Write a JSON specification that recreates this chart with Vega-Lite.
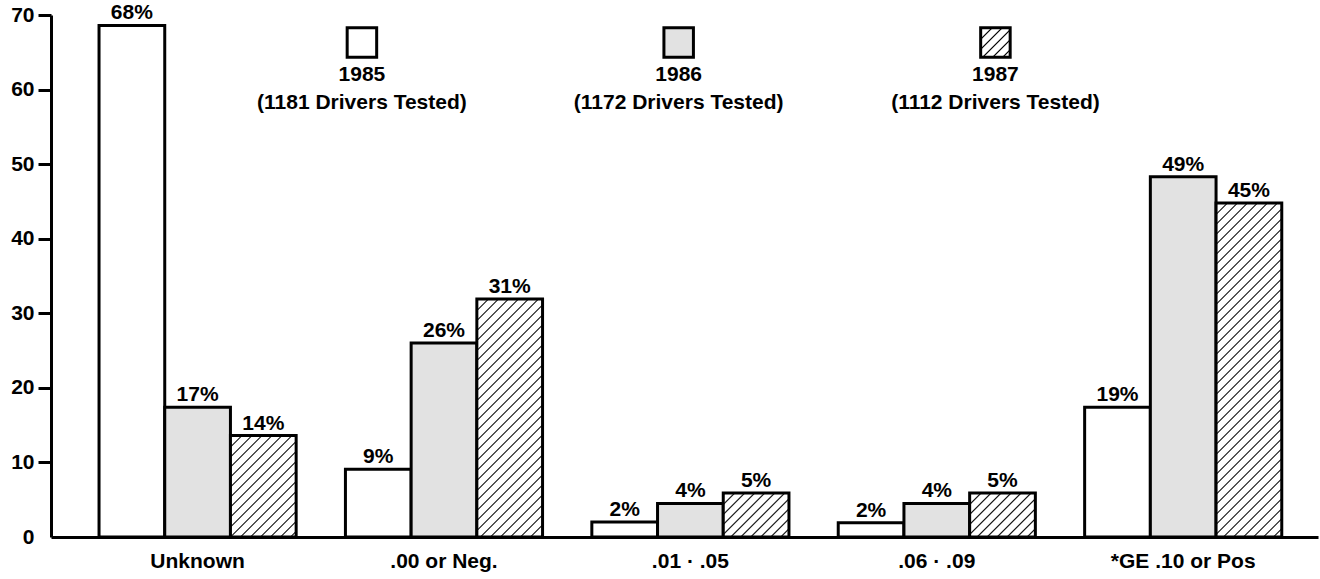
{
  "$schema": "https://vega.github.io/schema/vega-lite/v6.json",
  "width": 1267,
  "height": 522,
  "autosize": {"type": "none"},
  "padding": {"left": 51, "top": 15, "right": 2, "bottom": 42},
  "background": "white",
  "config": {"view": {"stroke": null}, "font": "Liberation Sans"},
  "datasets": {
    "bars": [
      {"cat": "Unknown", "year": "1985", "value": 68.6, "label": "68%"},
      {"cat": "Unknown", "year": "1986", "value": 17.4, "label": "17%"},
      {"cat": "Unknown", "year": "1987", "value": 13.6, "label": "14%"},
      {"cat": ".00 or Neg.", "year": "1985", "value": 9.1, "label": "9%"},
      {"cat": ".00 or Neg.", "year": "1986", "value": 26.0, "label": "26%"},
      {"cat": ".00 or Neg.", "year": "1987", "value": 31.9, "label": "31%"},
      {"cat": ".01 · .05", "year": "1985", "value": 2.0, "label": "2%"},
      {"cat": ".01 · .05", "year": "1986", "value": 4.5, "label": "4%"},
      {"cat": ".01 · .05", "year": "1987", "value": 5.9, "label": "5%"},
      {"cat": ".06 · .09", "year": "1985", "value": 1.9, "label": "2%"},
      {"cat": ".06 · .09", "year": "1986", "value": 4.5, "label": "4%"},
      {"cat": ".06 · .09", "year": "1987", "value": 5.9, "label": "5%"},
      {"cat": "*GE .10 or Pos", "year": "1985", "value": 17.4, "label": "19%"},
      {"cat": "*GE .10 or Pos", "year": "1986", "value": 48.3, "label": "49%"},
      {"cat": "*GE .10 or Pos", "year": "1987", "value": 44.8, "label": "45%"}
    ],
    "legend": [
      {"year": "1985", "tested": "(1181 Drivers Tested)"},
      {"year": "1986", "tested": "(1172 Drivers Tested)"},
      {"year": "1987", "tested": "(1112 Drivers Tested)"}
    ]
  },
  "resolve": {"scale": {"x": "independent"}},
  "layer": [
    {
      "data": {"name": "bars"},
      "encoding": {
        "x": {
          "field": "cat", "type": "nominal",
          "scale": {"domain": ["Unknown", ".00 or Neg.", ".01 · .05", ".06 · .09", "*GE .10 or Pos"], "paddingInner": 0.2, "paddingOuter": 0.171, "align": 0.57},
          "axis": {"title": null, "labelAngle": 0, "ticks": false, "labelFont": "Liberation Sans", "labelFontSize": 21, "labelFontWeight": "bold", "labelColor": "black", "labelPadding": 13, "domainWidth": 3, "domainColor": "black", "grid": false}
        },
        "xOffset": {"field": "year", "type": "nominal", "scale": {"domain": ["1985", "1986", "1987"], "paddingInner": 0, "paddingOuter": 0}},
        "y": {
          "field": "value", "type": "quantitative",
          "scale": {"domain": [0, 70], "nice": false},
          "axis": {"title": null, "values": [0, 10, 20, 30, 40, 50, 60, 70], "grid": false, "tickSize": 13, "tickWidth": 3, "tickColor": {"condition": {"test": "datum.value === 0", "value": "transparent"}, "value": "black"}, "domainWidth": 3, "domainColor": "black", "labelFont": "Liberation Sans", "labelFontSize": 21, "labelFontWeight": "bold", "labelColor": "black", "labelPadding": 4}
        }
      },
      "layer": [
        {
          "transform": [{"filter": "datum.year == '1985'"}],
          "mark": {"type": "bar", "fill": "white", "stroke": "black", "strokeWidth": 3}
        },
        {
          "transform": [{"filter": "datum.year == '1986'"}],
          "mark": {"type": "bar", "fill": "#e2e2e2", "stroke": "black", "strokeWidth": 3}
        },
        {
          "transform": [{"filter": "datum.year == '1987' && datum.cat == 'Unknown'"}],
          "mark": {"type": "bar", "stroke": "black", "strokeWidth": 3, "fill": {"gradient": "linear", "x1": 0, "y1": 0, "x2": 0.8999, "y2": 1.3889, "stops": [
            {"offset": 0, "color": "white"}, {"offset": 0.0075, "color": "black"}, {"offset": 0.015, "color": "white"},
            {"offset": 0.05, "color": "white"}, {"offset": 0.0575, "color": "black"}, {"offset": 0.065, "color": "white"},
            {"offset": 0.1, "color": "white"}, {"offset": 0.1075, "color": "black"}, {"offset": 0.115, "color": "white"},
            {"offset": 0.15, "color": "white"}, {"offset": 0.1575, "color": "black"}, {"offset": 0.165, "color": "white"},
            {"offset": 0.2, "color": "white"}, {"offset": 0.2075, "color": "black"}, {"offset": 0.215, "color": "white"},
            {"offset": 0.25, "color": "white"}, {"offset": 0.2575, "color": "black"}, {"offset": 0.265, "color": "white"},
            {"offset": 0.3, "color": "white"}, {"offset": 0.3075, "color": "black"}, {"offset": 0.315, "color": "white"},
            {"offset": 0.35, "color": "white"}, {"offset": 0.3575, "color": "black"}, {"offset": 0.365, "color": "white"},
            {"offset": 0.4, "color": "white"}, {"offset": 0.4075, "color": "black"}, {"offset": 0.415, "color": "white"},
            {"offset": 0.45, "color": "white"}, {"offset": 0.4575, "color": "black"}, {"offset": 0.465, "color": "white"},
            {"offset": 0.5, "color": "white"}, {"offset": 0.5075, "color": "black"}, {"offset": 0.515, "color": "white"},
            {"offset": 0.55, "color": "white"}, {"offset": 0.5575, "color": "black"}, {"offset": 0.565, "color": "white"},
            {"offset": 0.6, "color": "white"}, {"offset": 0.6075, "color": "black"}, {"offset": 0.615, "color": "white"},
            {"offset": 0.65, "color": "white"}, {"offset": 0.6575, "color": "black"}, {"offset": 0.665, "color": "white"},
            {"offset": 0.7, "color": "white"}, {"offset": 0.7075, "color": "black"}, {"offset": 0.715, "color": "white"},
            {"offset": 0.75, "color": "white"}, {"offset": 0.7575, "color": "black"}, {"offset": 0.765, "color": "white"},
            {"offset": 0.8, "color": "white"}, {"offset": 0.8075, "color": "black"}, {"offset": 0.815, "color": "white"}
          ]}}
        },
        {
          "transform": [{"filter": "datum.year == '1987' && datum.cat == '.00 or Neg.'"}],
          "mark": {"type": "bar", "stroke": "black", "strokeWidth": 3, "fill": {"gradient": "linear", "x1": 0, "y1": 0, "x2": 0.4316, "y2": 1.5623, "stops": [
            {"offset": 0, "color": "white"}, {"offset": 0.00375, "color": "black"}, {"offset": 0.0075, "color": "white"},
            {"offset": 0.025, "color": "white"}, {"offset": 0.02875, "color": "black"}, {"offset": 0.0325, "color": "white"},
            {"offset": 0.05, "color": "white"}, {"offset": 0.05375, "color": "black"}, {"offset": 0.0575, "color": "white"},
            {"offset": 0.075, "color": "white"}, {"offset": 0.07875, "color": "black"}, {"offset": 0.0825, "color": "white"},
            {"offset": 0.1, "color": "white"}, {"offset": 0.10375, "color": "black"}, {"offset": 0.1075, "color": "white"},
            {"offset": 0.125, "color": "white"}, {"offset": 0.12875, "color": "black"}, {"offset": 0.1325, "color": "white"},
            {"offset": 0.15, "color": "white"}, {"offset": 0.15375, "color": "black"}, {"offset": 0.1575, "color": "white"},
            {"offset": 0.175, "color": "white"}, {"offset": 0.17875, "color": "black"}, {"offset": 0.1825, "color": "white"},
            {"offset": 0.2, "color": "white"}, {"offset": 0.20375, "color": "black"}, {"offset": 0.2075, "color": "white"},
            {"offset": 0.225, "color": "white"}, {"offset": 0.22875, "color": "black"}, {"offset": 0.2325, "color": "white"},
            {"offset": 0.25, "color": "white"}, {"offset": 0.25375, "color": "black"}, {"offset": 0.2575, "color": "white"},
            {"offset": 0.275, "color": "white"}, {"offset": 0.27875, "color": "black"}, {"offset": 0.2825, "color": "white"},
            {"offset": 0.3, "color": "white"}, {"offset": 0.30375, "color": "black"}, {"offset": 0.3075, "color": "white"},
            {"offset": 0.325, "color": "white"}, {"offset": 0.32875, "color": "black"}, {"offset": 0.3325, "color": "white"},
            {"offset": 0.35, "color": "white"}, {"offset": 0.35375, "color": "black"}, {"offset": 0.3575, "color": "white"},
            {"offset": 0.375, "color": "white"}, {"offset": 0.37875, "color": "black"}, {"offset": 0.3825, "color": "white"},
            {"offset": 0.4, "color": "white"}, {"offset": 0.40375, "color": "black"}, {"offset": 0.4075, "color": "white"},
            {"offset": 0.425, "color": "white"}, {"offset": 0.42875, "color": "black"}, {"offset": 0.4325, "color": "white"},
            {"offset": 0.45, "color": "white"}, {"offset": 0.45375, "color": "black"}, {"offset": 0.4575, "color": "white"},
            {"offset": 0.475, "color": "white"}, {"offset": 0.47875, "color": "black"}, {"offset": 0.4825, "color": "white"},
            {"offset": 0.5, "color": "white"}, {"offset": 0.50375, "color": "black"}, {"offset": 0.5075, "color": "white"},
            {"offset": 0.525, "color": "white"}, {"offset": 0.52875, "color": "black"}, {"offset": 0.5325, "color": "white"},
            {"offset": 0.55, "color": "white"}, {"offset": 0.55375, "color": "black"}, {"offset": 0.5575, "color": "white"},
            {"offset": 0.575, "color": "white"}, {"offset": 0.57875, "color": "black"}, {"offset": 0.5825, "color": "white"},
            {"offset": 0.6, "color": "white"}, {"offset": 0.60375, "color": "black"}, {"offset": 0.6075, "color": "white"},
            {"offset": 0.625, "color": "white"}, {"offset": 0.62875, "color": "black"}, {"offset": 0.6325, "color": "white"},
            {"offset": 0.65, "color": "white"}, {"offset": 0.65375, "color": "black"}, {"offset": 0.6575, "color": "white"},
            {"offset": 0.675, "color": "white"}, {"offset": 0.67875, "color": "black"}, {"offset": 0.6825, "color": "white"},
            {"offset": 0.7, "color": "white"}, {"offset": 0.70375, "color": "black"}, {"offset": 0.7075, "color": "white"},
            {"offset": 0.725, "color": "white"}, {"offset": 0.72875, "color": "black"}, {"offset": 0.7325, "color": "white"},
            {"offset": 0.75, "color": "white"}, {"offset": 0.75375, "color": "black"}, {"offset": 0.7575, "color": "white"}
          ]}}
        },
        {
          "transform": [{"filter": "datum.year == '1987' && (datum.cat == '.01 · .05' || datum.cat == '.06 · .09')"}],
          "mark": {"type": "bar", "stroke": "black", "strokeWidth": 3, "fill": {"gradient": "linear", "x1": 0, "y1": 0, "x2": 2.1015, "y2": 1.4071, "stops": [
            {"offset": 0, "color": "white"}, {"offset": 0.0075, "color": "black"}, {"offset": 0.015, "color": "white"},
            {"offset": 0.05, "color": "white"}, {"offset": 0.0575, "color": "black"}, {"offset": 0.065, "color": "white"},
            {"offset": 0.1, "color": "white"}, {"offset": 0.1075, "color": "black"}, {"offset": 0.115, "color": "white"},
            {"offset": 0.15, "color": "white"}, {"offset": 0.1575, "color": "black"}, {"offset": 0.165, "color": "white"},
            {"offset": 0.2, "color": "white"}, {"offset": 0.2075, "color": "black"}, {"offset": 0.215, "color": "white"},
            {"offset": 0.25, "color": "white"}, {"offset": 0.2575, "color": "black"}, {"offset": 0.265, "color": "white"},
            {"offset": 0.3, "color": "white"}, {"offset": 0.3075, "color": "black"}, {"offset": 0.315, "color": "white"},
            {"offset": 0.35, "color": "white"}, {"offset": 0.3575, "color": "black"}, {"offset": 0.365, "color": "white"},
            {"offset": 0.4, "color": "white"}, {"offset": 0.4075, "color": "black"}, {"offset": 0.415, "color": "white"},
            {"offset": 0.45, "color": "white"}, {"offset": 0.4575, "color": "black"}, {"offset": 0.465, "color": "white"},
            {"offset": 0.5, "color": "white"}, {"offset": 0.5075, "color": "black"}, {"offset": 0.515, "color": "white"}
          ]}}
        },
        {
          "transform": [{"filter": "datum.year == '1987' && datum.cat == '*GE .10 or Pos'"}],
          "mark": {"type": "bar", "stroke": "black", "strokeWidth": 3, "fill": {"gradient": "linear", "x1": 0, "y1": 0, "x2": 0.2267, "y2": 1.1527, "stops": [
            {"offset": 0, "color": "white"}, {"offset": 0.00375, "color": "black"}, {"offset": 0.0075, "color": "white"},
            {"offset": 0.025, "color": "white"}, {"offset": 0.02875, "color": "black"}, {"offset": 0.0325, "color": "white"},
            {"offset": 0.05, "color": "white"}, {"offset": 0.05375, "color": "black"}, {"offset": 0.0575, "color": "white"},
            {"offset": 0.075, "color": "white"}, {"offset": 0.07875, "color": "black"}, {"offset": 0.0825, "color": "white"},
            {"offset": 0.1, "color": "white"}, {"offset": 0.10375, "color": "black"}, {"offset": 0.1075, "color": "white"},
            {"offset": 0.125, "color": "white"}, {"offset": 0.12875, "color": "black"}, {"offset": 0.1325, "color": "white"},
            {"offset": 0.15, "color": "white"}, {"offset": 0.15375, "color": "black"}, {"offset": 0.1575, "color": "white"},
            {"offset": 0.175, "color": "white"}, {"offset": 0.17875, "color": "black"}, {"offset": 0.1825, "color": "white"},
            {"offset": 0.2, "color": "white"}, {"offset": 0.20375, "color": "black"}, {"offset": 0.2075, "color": "white"},
            {"offset": 0.225, "color": "white"}, {"offset": 0.22875, "color": "black"}, {"offset": 0.2325, "color": "white"},
            {"offset": 0.25, "color": "white"}, {"offset": 0.25375, "color": "black"}, {"offset": 0.2575, "color": "white"},
            {"offset": 0.275, "color": "white"}, {"offset": 0.27875, "color": "black"}, {"offset": 0.2825, "color": "white"},
            {"offset": 0.3, "color": "white"}, {"offset": 0.30375, "color": "black"}, {"offset": 0.3075, "color": "white"},
            {"offset": 0.325, "color": "white"}, {"offset": 0.32875, "color": "black"}, {"offset": 0.3325, "color": "white"},
            {"offset": 0.35, "color": "white"}, {"offset": 0.35375, "color": "black"}, {"offset": 0.3575, "color": "white"},
            {"offset": 0.375, "color": "white"}, {"offset": 0.37875, "color": "black"}, {"offset": 0.3825, "color": "white"},
            {"offset": 0.4, "color": "white"}, {"offset": 0.40375, "color": "black"}, {"offset": 0.4075, "color": "white"},
            {"offset": 0.425, "color": "white"}, {"offset": 0.42875, "color": "black"}, {"offset": 0.4325, "color": "white"},
            {"offset": 0.45, "color": "white"}, {"offset": 0.45375, "color": "black"}, {"offset": 0.4575, "color": "white"},
            {"offset": 0.475, "color": "white"}, {"offset": 0.47875, "color": "black"}, {"offset": 0.4825, "color": "white"},
            {"offset": 0.5, "color": "white"}, {"offset": 0.50375, "color": "black"}, {"offset": 0.5075, "color": "white"},
            {"offset": 0.525, "color": "white"}, {"offset": 0.52875, "color": "black"}, {"offset": 0.5325, "color": "white"},
            {"offset": 0.55, "color": "white"}, {"offset": 0.55375, "color": "black"}, {"offset": 0.5575, "color": "white"},
            {"offset": 0.575, "color": "white"}, {"offset": 0.57875, "color": "black"}, {"offset": 0.5825, "color": "white"},
            {"offset": 0.6, "color": "white"}, {"offset": 0.60375, "color": "black"}, {"offset": 0.6075, "color": "white"},
            {"offset": 0.625, "color": "white"}, {"offset": 0.62875, "color": "black"}, {"offset": 0.6325, "color": "white"},
            {"offset": 0.65, "color": "white"}, {"offset": 0.65375, "color": "black"}, {"offset": 0.6575, "color": "white"},
            {"offset": 0.675, "color": "white"}, {"offset": 0.67875, "color": "black"}, {"offset": 0.6825, "color": "white"},
            {"offset": 0.7, "color": "white"}, {"offset": 0.70375, "color": "black"}, {"offset": 0.7075, "color": "white"},
            {"offset": 0.725, "color": "white"}, {"offset": 0.72875, "color": "black"}, {"offset": 0.7325, "color": "white"},
            {"offset": 0.75, "color": "white"}, {"offset": 0.75375, "color": "black"}, {"offset": 0.7575, "color": "white"},
            {"offset": 0.775, "color": "white"}, {"offset": 0.77875, "color": "black"}, {"offset": 0.7825, "color": "white"},
            {"offset": 0.8, "color": "white"}, {"offset": 0.80375, "color": "black"}, {"offset": 0.8075, "color": "white"},
            {"offset": 0.825, "color": "white"}, {"offset": 0.82875, "color": "black"}, {"offset": 0.8325, "color": "white"},
            {"offset": 0.85, "color": "white"}, {"offset": 0.85375, "color": "black"}, {"offset": 0.8575, "color": "white"},
            {"offset": 0.875, "color": "white"}, {"offset": 0.87875, "color": "black"}, {"offset": 0.8825, "color": "white"},
            {"offset": 0.9, "color": "white"}, {"offset": 0.90375, "color": "black"}, {"offset": 0.9075, "color": "white"},
            {"offset": 0.925, "color": "white"}, {"offset": 0.92875, "color": "black"}, {"offset": 0.9325, "color": "white"},
            {"offset": 0.95, "color": "white"}, {"offset": 0.95375, "color": "black"}, {"offset": 0.9575, "color": "white"},
            {"offset": 0.975, "color": "white"}, {"offset": 0.97875, "color": "black"}, {"offset": 0.9825, "color": "white"}
          ]}}
        },
        {
          "mark": {"type": "text", "baseline": "alphabetic", "dy": -6, "font": "Liberation Sans", "fontSize": 21, "fontWeight": "bold", "color": "black"},
          "encoding": {"text": {"field": "label"}}
        }
      ]
    },
    {
      "data": {"name": "legend"},
      "encoding": {
        "x": {"field": "year", "type": "nominal", "scale": {"type": "point", "domain": ["1985", "1986", "1987"], "padding": 1.0535, "align": 0.4908}, "axis": null},
        "y": {"datum": 66.31, "type": "quantitative", "scale": {"domain": [0, 70], "nice": false}, "title": null}
      },
      "layer": [
        {
          "transform": [{"filter": "datum.year == '1985'"}],
          "mark": {"type": "point", "shape": "square", "size": 870, "filled": true, "fill": "white", "stroke": "black", "strokeWidth": 3, "opacity": 1}
        },
        {
          "transform": [{"filter": "datum.year == '1986'"}],
          "mark": {"type": "point", "shape": "square", "size": 870, "filled": true, "fill": "#e2e2e2", "stroke": "black", "strokeWidth": 3, "opacity": 1}
        },
        {
          "transform": [{"filter": "datum.year == '1987'"}],
          "mark": {"type": "point", "shape": "square", "size": 870, "filled": true, "stroke": "black", "strokeWidth": 3, "opacity": 1, "fill": {"gradient": "linear", "x1": 0, "y1": 0, "x2": 3.391, "y2": 3.391, "stops": [
            {"offset": 0, "color": "white"}, {"offset": 0.0075, "color": "black"}, {"offset": 0.015, "color": "white"},
            {"offset": 0.05, "color": "white"}, {"offset": 0.0575, "color": "black"}, {"offset": 0.065, "color": "white"},
            {"offset": 0.1, "color": "white"}, {"offset": 0.1075, "color": "black"}, {"offset": 0.115, "color": "white"},
            {"offset": 0.15, "color": "white"}, {"offset": 0.1575, "color": "black"}, {"offset": 0.165, "color": "white"},
            {"offset": 0.2, "color": "white"}, {"offset": 0.2075, "color": "black"}, {"offset": 0.215, "color": "white"},
            {"offset": 0.25, "color": "white"}, {"offset": 0.2575, "color": "black"}, {"offset": 0.265, "color": "white"}
          ]}}
        },
        {
          "mark": {"type": "text", "dy": 32.5, "baseline": "middle", "font": "Liberation Sans", "fontSize": 21, "fontWeight": "bold", "color": "black"},
          "encoding": {"text": {"field": "year"}}
        },
        {
          "mark": {"type": "text", "dy": 60.5, "baseline": "middle", "font": "Liberation Sans", "fontSize": 21, "fontWeight": "bold", "color": "black"},
          "encoding": {"text": {"field": "tested"}}
        }
      ]
    }
  ]
}
